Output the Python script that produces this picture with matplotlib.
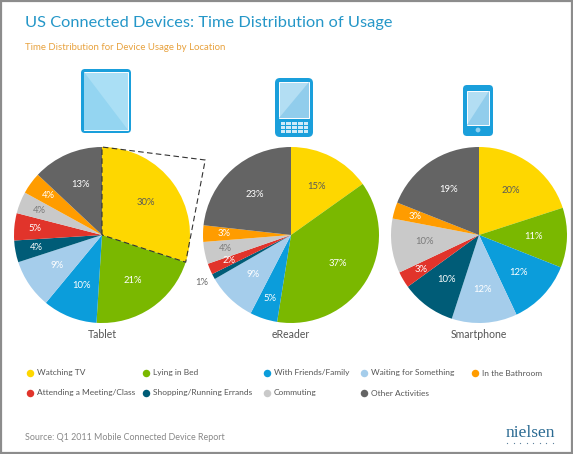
import numpy as np
import matplotlib
matplotlib.use("Agg")
import matplotlib.pyplot as plt
from matplotlib.patches import FancyBboxPatch, Rectangle, Polygon, Circle

plt.rcParams['font.family'] = ['Lato', 'DejaVu Sans']

# slices clockwise from 12 o'clock
categories = ['Watching TV', 'Lying in Bed', 'With Friends/Family', 'Waiting for Something',
              'Shopping/Running Errands', 'Attending a Meeting/Class', 'Commuting',
              'In the Bathroom', 'Other Activities']
tablet     = [30, 21, 10, 9, 4, 5, 4, 4, 13]
ereader    = [15, 37, 5, 9, 1, 2, 4, 3, 23]
smartphone = [20, 11, 12, 12, 10, 3, 10, 3, 19]
devices    = ['Tablet', 'eReader', 'Smartphone']

legend_rows = [['Watching TV', 'Lying in Bed', 'With Friends/Family', 'Waiting for Something', 'In the Bathroom'],
               ['Attending a Meeting/Class', 'Shopping/Running Errands', 'Commuting', 'Other Activities']]

colors = {
    'Watching TV': '#fed700',
    'Lying in Bed': '#7ab800',
    'With Friends/Family': '#0b9ddb',
    'Waiting for Something': '#a5cdeb',
    'In the Bathroom': '#ff9c00',
    'Attending a Meeting/Class': '#e1342b',
    'Shopping/Running Errands': '#005c77',
    'Commuting': '#c9c9c9',
    'Other Activities': '#646464',
}
label_col = {'Watching TV': '#5a5a5a', 'Commuting': '#7a7a7a'}

W, H = 573, 454
fig = plt.figure(figsize=(W / 100, H / 100), dpi=100)
fig.patch.set_facecolor('white')

# overlay axes in pixel coordinates
ax0 = fig.add_axes([0, 0, 1, 1])
ax0.set_xlim(0, W)
ax0.set_ylim(H, 0)
ax0.axis('off')

ax0.add_patch(Rectangle((1, 1), W - 2.5, H - 2.5, fill=False, ec='#8c8c8c', lw=1.6))

ax0.text(25, 23, 'US Connected Devices: Time Distribution of Usage', fontsize=11.8,
         color='#2597c8', va='center', ha='left')
ax0.text(25, 47, 'Time Distribution for Device Usage by Location', fontsize=6.9,
         color='#e8a23e', va='center', ha='left')

# --- device icons ---
blue = '#1a9fdb'
def screen(x0, y0, x1, y1, light, dark, flip):
    ax0.add_patch(Rectangle((x0, y0), x1 - x0, y1 - y0, fc=light, ec='white', lw=0.7))
    if flip:
        tri = [(x0, y0), (x0, y1), (x1, y1)]
    else:
        tri = [(x1, y0), (x1, y1), (x0, y1)]
    ax0.add_patch(Polygon(tri, closed=True, fc=dark, ec='none'))

# tablet
ax0.add_patch(FancyBboxPatch((81, 69), 50, 64, boxstyle='round,pad=0,rounding_size=4', fc=blue, ec='none'))
screen(84, 72, 128, 130, '#aadff5', '#94d5f1', True)
# eReader
ax0.add_patch(FancyBboxPatch((275, 78), 38, 59, boxstyle='round,pad=0,rounding_size=5', fc=blue, ec='none'))
screen(279, 82, 309, 118, '#b3def3', '#91cdec', False)
for r in range(3):
    for c in range(5):
        ax0.add_patch(Rectangle((280.5 + c * 5.8, 122 + r * 3.8), 4.6, 2.9, fc='#cfeaf8', ec='none'))
# smartphone
ax0.add_patch(FancyBboxPatch((463, 85), 30, 51, boxstyle='round,pad=0,rounding_size=4', fc=blue, ec='none'))
screen(467, 91, 489, 125, '#b3def3', '#91cdec', False)
ax0.add_patch(Circle((478, 130), 2.4, fc='#8fd0ef', ec='none'))

# --- pies ---
centers = [(102, 235), (291, 235), (479, 235)]
R = 88
pie_colors = [colors[c] for c in categories]

def pie_axes(cx, cy):
    return fig.add_axes([(cx - R) / W, (H - cy - R) / H, 2 * R / W, 2 * R / H])

for name, vals, (cx, cy) in zip(devices, [tablet, ereader, smartphone], centers):
    ax = pie_axes(cx, cy)
    wedges, _ = ax.pie(vals, colors=pie_colors, startangle=90, counterclock=False,
                       radius=1, wedgeprops=dict(linewidth=0))
    ax.set_xlim(-1, 1)
    ax.set_ylim(-1, 1)
    for w, v, cat in zip(wedges, vals, categories):
        mid = np.deg2rad((w.theta1 + w.theta2) / 2)
        if v <= 1:
            rr, tc = 1.15, '#6a6a6a'
        elif v < 8:
            rr, tc = 0.76, label_col.get(cat, 'white')
        else:
            rr, tc = 0.62, label_col.get(cat, 'white')
        ax.text(rr * np.cos(mid), rr * np.sin(mid), f'{v}%', ha='center', va='center',
                fontsize=6.8, color=tc)
    if name == 'Tablet':
        w = wedges[0]
        m = np.deg2rad((w.theta1 + w.theta2) / 2)
        a1, a2 = np.deg2rad(w.theta1), np.deg2rad(w.theta2)
        xs = [0, np.cos(a2), 1.45 * np.cos(m), np.cos(a1), 0]
        ys = [0, np.sin(a2), 1.45 * np.sin(m), np.sin(a1), 0]
        ax.plot(xs, ys, ls=(0, (5, 3)), color='#333333', lw=0.8, clip_on=False)
    ax0.text(cx, 334, name, ha='center', va='center', fontsize=7.6, color='#555555')

# --- legend ---
col_x = [30, 146, 267, 364, 475]
row_y = [373, 393]
for ry, row in zip(row_y, legend_rows):
    for cx, cat in zip(col_x, row):
        ax0.plot(cx, ry, 'o', ms=5.4, color=colors[cat], mec='none')
        ax0.text(cx + 7, ry, cat, ha='left', va='center', fontsize=6.0, color='#555555')

# --- footer ---
ax0.text(25, 437, 'Source: Q1 2011 Mobile Connected Device Report', ha='left', va='center',
         fontsize=6.4, color='#888888')
ax0.text(530, 433, 'nielsen', ha='center', va='center', fontsize=12.5, color='#2a6a92',
         family='Liberation Serif')
ax0.plot(np.linspace(507, 553, 8), [443] * 8, 'o', ms=0.9, color='#5a7f9a', mec='none')

fig.savefig('out.png', dpi=100)
